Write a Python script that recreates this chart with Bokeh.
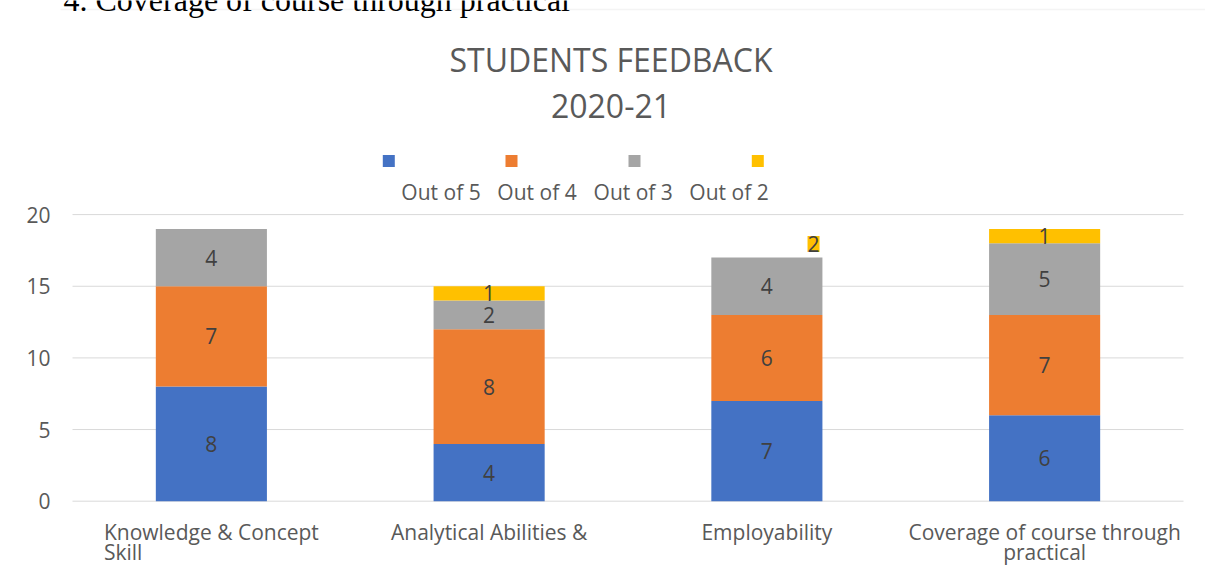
from bokeh.plotting import figure
from bokeh.models import Range1d, FixedTicker, Label, BoxAnnotation, ColumnDataSource
from bokeh.embed import file_html
from bokeh.resources import INLINE
from bokeh.core.properties import value

# ---------------- data ----------------
categories = ["Knowledge & Concept\nSkill",
              "Analytical Abilities &",
              "Employability",
              "Coverage of course through\npractical"]
series_names = ["Out of 5", "Out of 4", "Out of 3", "Out of 2"]
out_of_5 = [8, 4, 7, 6]
out_of_4 = [7, 8, 6, 7]
out_of_3 = [4, 2, 4, 5]
out_of_2 = [0, 1, 0, 1]
extra_label_text = "2"          # stray yellow data label above "Employability"
extra_label_index = 2
y_ticks = [0, 5, 10, 15, 20]
title_lines = ["STUDENTS FEEDBACK", "2020-21"]
page_heading = "4. Coverage of course through practical"

colors = ["#4472C4", "#ED7D31", "#A5A5A5", "#FFC000"]
FONT = "Open Sans"
GREY_TXT = "#595959"
LABEL_TXT = "#404040"
SMALL = "21px"

# ---------------- layout helpers (reference pixel -> data) ----------------
W, H = 1205, 588
LEFT_BORDER = 60
PX_X0, PX_PER_CAT = 72.0, 277.75
PX_Y0, PX_PER_UNIT = 500.7, 14.33
def dx(px): return (px - PX_X0) / PX_PER_CAT
def dy(py): return (PX_Y0 - py) / PX_PER_UNIT
SHIFT_BIG, SHIFT_SMALL = 13, 9.5   # alphabetic baseline correction of Label text

p = figure(width=W, height=H,
           x_range=Range1d(dx(LEFT_BORDER), dx(W)), y_range=Range1d(dy(H), dy(0)),
           x_axis_location=None,
           output_backend="svg", toolbar_location=None,
           min_border_left=LEFT_BORDER, min_border_right=0, min_border_top=0, min_border_bottom=0)
p.outline_line_color = None
p.background_fill_color = "white"
p.border_fill_color = "white"
p.xgrid.grid_line_color = None
p.ygrid.grid_line_color = None

n = len(categories)
xs = [i + 0.5 for i in range(n)]

# horizontal gridlines spanning the category area
p.segment(x0=[0] * len(y_ticks), x1=[n] * len(y_ticks), y0=y_ticks, y1=y_ticks,
          line_color="#D9D9D9", line_width=1)

# stacked bars with centred value labels
series = [out_of_5, out_of_4, out_of_3, out_of_2]
bottoms = [0] * n
for vals, col in zip(series, colors):
    tops = [b + v for b, v in zip(bottoms, vals)]
    src = ColumnDataSource(dict(x=xs, bottom=bottoms, top=tops,
                                mid=[(b + t) / 2 for b, t in zip(bottoms, tops)],
                                txt=[str(v) if v else "" for v in vals]))
    p.vbar(x="x", bottom="bottom", top="top", width=0.4, source=src,
           fill_color=col, line_color=None)
    p.text(x="x", y="mid", text="txt", source=src, text_align="center", text_baseline="middle",
           text_font=value(FONT), text_font_size=SMALL, text_color=LABEL_TXT)
    bottoms = tops

# stray label "2" with yellow background at the top right of the Employability bar
p.add_layout(Label(x=xs[extra_label_index] + 0.168, y=bottoms[extra_label_index] + 0.95,
                   text=extra_label_text, text_align="center", text_baseline="middle",
                   text_font=FONT, text_font_size=SMALL, text_color=LABEL_TXT,
                   background_fill_color=colors[3], padding=0))

# y axis
p.yaxis.ticker = FixedTicker(ticks=y_ticks)
p.yaxis.axis_line_color = None
p.yaxis.major_tick_line_color = None
p.yaxis.minor_tick_line_color = None
p.yaxis.major_tick_out = 0
p.yaxis.major_tick_in = 0
p.yaxis.major_label_standoff = 10
p.yaxis.major_label_text_font = FONT
p.yaxis.major_label_text_font_size = SMALL
p.yaxis.major_label_text_color = GREY_TXT

# category labels (wrapped like the original)
LINE1_BASE, LINE_GAP = 541, 20
for i, cat in enumerate(categories):
    lines = cat.split("\n")
    for j, line in enumerate(lines):
        if j > 0 and i == 0:   # "Skill" sits flush left under the first line
            lx, align = xs[i] - 107.5 / PX_PER_CAT, "left"
        else:
            lx, align = xs[i], "center"
        p.add_layout(Label(x=lx, y=dy(LINE1_BASE + j * LINE_GAP - SHIFT_SMALL), text=line,
                           text_align=align, text_baseline="alphabetic", text_font=FONT,
                           text_font_size=SMALL, text_color=GREY_TXT))

# chart border (top edge)
p.add_layout(BoxAnnotation(left=-10, right=1400, top=9, bottom=900,
                           left_units="canvas", right_units="canvas",
                           top_units="canvas", bottom_units="canvas",
                           fill_color=None, line_color="#D9D9D9", line_width=1.5))

# chart title
p.add_layout(Label(x=dx(610.5), y=dy(72 - SHIFT_BIG), text=title_lines[0], text_align="center",
                   text_baseline="alphabetic", text_font=FONT, text_font_size="32px",
                   text_color=GREY_TXT))
p.add_layout(Label(x=dx(610.5), y=dy(118.5 - SHIFT_BIG), text=title_lines[1], text_align="center",
                   text_baseline="alphabetic", text_font=FONT, text_font_size="32px",
                   text_color=GREY_TXT))

# legend (marker above wrapped label)
sq_x = [388.3, 511, 634, 757.3]
lab_x = [440.5, 536.5, 632.7, 728.5]
p.scatter(x=[dx(v) for v in sq_x], y=[dy(160.5)] * 4, marker="square", size=12,
          fill_color=colors, line_color=None)
for name, lx in zip(series_names, lab_x):
    p.add_layout(Label(x=dx(lx), y=dy(201 - SHIFT_SMALL), text=name, text_align="center",
                       text_baseline="alphabetic", text_font=FONT, text_font_size=SMALL,
                       text_color=GREY_TXT))

# page heading, cut off at the top of the window
p.add_layout(Label(x=dx(63), y=dy(12 - SHIFT_BIG), text=page_heading, text_align="left",
                   text_baseline="alphabetic", text_font="Liberation Serif",
                   text_font_size="32px", text_color="black"))

open("out.html", "w").write(file_html(p, INLINE))
